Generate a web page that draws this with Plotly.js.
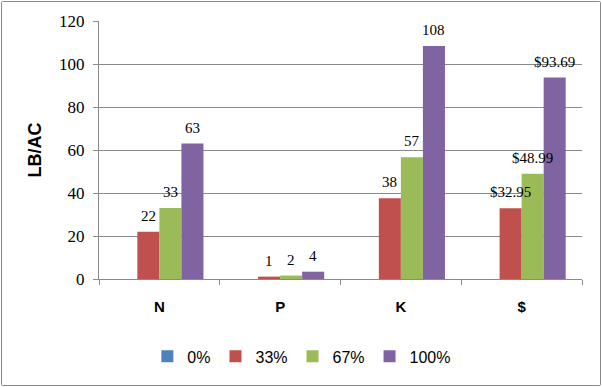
<!DOCTYPE html>
<html>
<head>
<meta charset="utf-8">
<script src="https://cdn.plot.ly/plotly-3.0.1.min.js"></script>
<style>
  html, body { margin: 0; padding: 0; background: #fff; }
  #chart { margin: 1px; width: 598px; height: 383px; border: 1px solid #8a8a8a; border-radius: 2px; }
</style>
</head>
<body>
<div id="chart"></div>
<script>
const categories = ["N", "P", "K", "$"];
const seriesNames = ["0%", "33%", "67%", "100%"];
const values0 = [0, 0, 0, 0];
const values33 = [22, 1.1, 37.6, 32.95];
const values67 = [33, 1.6, 56.6, 48.99];
const values100 = [63, 3.4, 108.4, 93.69];
const labels0 = ["", "", "", ""];
const labels33 = ["22", "1", "38", "$32.95"];
const labels67 = ["33", "2", "57", "$48.99"];
const labels100 = ["63", "4", "108", "$93.69"];
const colors = ["#4F81BD", "#C0504D", "#9BBB59", "#8064A2"];
const yTicks = [0, 20, 40, 60, 80, 100, 120];

const allValues = [values0, values33, values67, values100];
const allLabels = [labels0, labels33, labels67, labels100];
const bargap = 0.27;

const traces = allValues.map((vals, i) => ({
  type: "bar",
  name: seriesNames[i],
  x: categories,
  y: vals,
  marker: { color: colors[i], line: { width: 0 } },
  hoverinfo: "skip"
}));

const annotations = [];
allValues.forEach((vals, i) => {
  vals.forEach((v, c) => {
    const t = allLabels[i][c];
    if (!t) return;
    annotations.push({
      x: c + (i - 1.5) * (1 - bargap) / 4,
      y: v,
      xref: "x", yref: "y",
      text: t,
      showarrow: false,
      yanchor: "middle",
      yshift: 16,
      font: { family: "Liberation Serif, DejaVu Serif, serif", size: 15, color: "#000" }
    });
  });
});

const layout = {
  width: 598, height: 383,
  margin: { l: 97, r: 18, t: 19, b: 106 },
  paper_bgcolor: "#fff",
  plot_bgcolor: "#fff",
  barmode: "group",
  bargap: bargap,
  bargroupgap: 0,
  showlegend: true,
  legend: {
    orientation: "h",
    x: 0.42, xanchor: "center",
    y: -0.30, yanchor: "middle",
    font: { family: "Liberation Sans, Arial, sans-serif", size: 16, color: "#000" },
    itemwidth: 30,
    traceorder: "normal"
  },
  xaxis: {
    type: "category",
    showgrid: false,
    showline: true, linecolor: "#8a8a8a", linewidth: 1,
    ticks: "outside", tickson: "boundaries", ticklen: 5, tickcolor: "#8a8a8a",
    ticklabelstandoff: 14,
    tickfont: { family: "Liberation Sans, Arial, sans-serif", size: 15, color: "#000", weight: "bold" },
    zeroline: false,
    fixedrange: true
  },
  yaxis: {
    range: [0, 120],
    tickvals: yTicks,
    ticktext: yTicks.map(String),
    showgrid: true, gridcolor: "#8a8a8a", gridwidth: 1,
    showline: true, linecolor: "#8a8a8a", linewidth: 1,
    ticks: "outside", ticklen: 5, tickcolor: "#8a8a8a",
    ticklabelstandoff: 5,
    tickfont: { family: "Liberation Serif, DejaVu Serif, serif", size: 17, color: "#000" },
    zeroline: false,
    title: {
      text: "LB/AC",
      standoff: 12,
      font: { family: "Liberation Sans, Arial, sans-serif", size: 18, color: "#000", weight: "bold" }
    },
    fixedrange: true
  },
  annotations: annotations
};

Plotly.newPlot("chart", traces, layout, { displayModeBar: false, staticPlot: true });
</script>
</body>
</html>
